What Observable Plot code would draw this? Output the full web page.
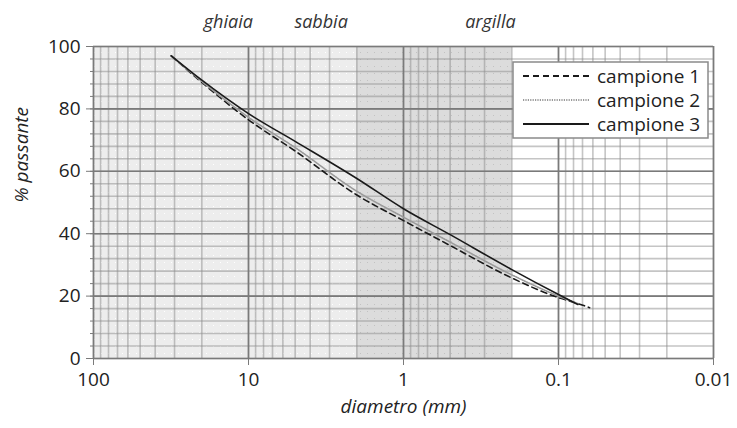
<!DOCTYPE html>
<html><head><meta charset="utf-8">
<script src="https://cdn.jsdelivr.net/npm/d3@7"></script>
<script src="https://cdn.jsdelivr.net/npm/@observablehq/plot@0.6"></script>
<style>
body{margin:0;background:#fff}
#chart{position:relative;width:737px;height:428px}
</style>
</head><body><div id="chart"></div>
<script>
// ---- data ----
const sizes = [31.5, 20, 10, 5, 2, 1, 0.5, 0.2, 0.1, 0.075, 0.063]; // diametro (mm)
const campione1 = [97, 88.5, 76.5, 66.5, 52.4, 44.2, 36.2, 25.8, 19.5, 17.6, 16.3];
const campione2 = [97, 88.8, 77.3, 67.6, 53.6, 45.3, 37.3, 26.8, 20.0, 17.6];
const campione3 = [97, 89.2, 78.5, 69.6, 57.7, 48.0, 39.7, 28.5, 20.5, 17.3];
const seriesNames = ["campione 1", "campione 2", "campione 3"];
const xTicks = [100, 10, 1, 0.1, 0.01];
const yTicks = [0, 20, 40, 60, 80, 100];
const zoneFrom = [100, 2];
const zoneTo = [2, 0.2];
const zoneLabels = ["ghiaia", "sabbia", "argilla"];
const zoneLabelX = [13.5, 3.4, 0.275];

// ---- tables ----
const allValues = [campione1, campione2, campione3];
const rows = [];
allValues.forEach((vals, s) => vals.forEach((v, i) => rows.push({name: seriesNames[s], d: sizes[i], p: v})));
const zones = zoneFrom.map((f, i) => ({from: f, to: zoneTo[i], k: i}));
const labels = zoneLabels.map((t, i) => ({t, x: zoneLabelX[i]}));
const minorX = d3.scaleLog().domain([0.01, 100]).ticks();
const minorY = d3.range(0, 101, 4);

const styles = {
  "campione 1": {stroke: "#1a1a1a", dash: "6,4", width: 1.6},
  "campione 2": {stroke: "#9a9a9a", dash: "1.2,1.2", width: 1.6},
  "campione 3": {stroke: "#1a1a1a", dash: null, width: 1.6}
};
const zoneFill = ["#ededed", "#dcdcdc"];
const zoneDot = ["#ffffff", "#c2c2c2"];
const FONT = "'Open Sans', sans-serif";

const plot = Plot.plot({
  width: 737, height: 428,
  marginLeft: 93, marginRight: 24, marginTop: 46, marginBottom: 70,
  style: {fontFamily: FONT, fontSize: "19px", color: "#222", background: "#fff", overflow: "visible"},
  x: {type: "log", domain: [100, 0.01]},
  y: {domain: [0, 100]},
  marks: [
    Plot.rect(zones, {x1: "from", x2: "to", y1: 0, y2: 100, fill: d => zoneFill[d.k], className: "zone"}),
    Plot.ruleX(minorX, {y1: 0, y2: 100, stroke: "#8c8c8c", strokeOpacity: 0.5, strokeWidth: 1.6}),
    Plot.ruleY(minorY, {x1: 100, x2: 0.01, stroke: "#8c8c8c", strokeOpacity: 0.5, strokeWidth: 1.6}),
    Plot.ruleX(xTicks, {y1: 0, y2: 100, stroke: "#7a7a7a", strokeWidth: 1.6}),
    Plot.ruleY(yTicks, {x1: 100, x2: 0.01, stroke: "#7a7a7a", strokeWidth: 1.6}),
    Plot.axisX(xTicks, {tickSize: 7, tickPadding: 7, stroke: "#7a7a7a", tickFormat: d => String(d), label: null, fontSize: 19}),
    Plot.axisY(yTicks, {tickSize: 7, tickPadding: 6, stroke: "#7a7a7a", label: null, fontSize: 19}),
    Plot.axisY(minorY, {tickSize: 3, stroke: "#7a7a7a", tickFormat: () => "", label: null}),
    ...seriesNames.map(n => Plot.line(rows.filter(r => r.name === n), {
      x: "d", y: "p", stroke: styles[n].stroke, strokeWidth: styles[n].width,
      strokeDasharray: styles[n].dash || undefined, curve: "monotone-x"
    })),
    Plot.text(labels, {x: "x", y: 100, text: "t", dy: -24, fontStyle: "italic", fontSize: 18, fill: "#333"}),
    Plot.text(["diametro (mm)"], {frameAnchor: "bottom", dy: 54, fontStyle: "italic", fontSize: 19, fill: "#222"}),
    Plot.text(["% passante"], {frameAnchor: "left", dx: -72, rotate: -90, fontStyle: "italic", fontSize: 19, fill: "#222"})
  ]
});

const svg = d3.select(plot);
// dotted texture for the zones
const defs = svg.append("defs");
zoneFill.forEach((c, i) => {
  const p = defs.append("pattern").attr("id", "zp" + i).attr("patternUnits", "userSpaceOnUse")
    .attr("width", 7).attr("height", 7);
  p.append("rect").attr("width", 7).attr("height", 7).attr("fill", c);
  p.append("rect").attr("x", 3).attr("y", 3).attr("width", 1).attr("height", 1).attr("fill", zoneDot[i]);
});
svg.selectAll(".zone rect").each(function(_, i) { d3.select(this).attr("fill", `url(#zp${i})`); });

// legend inside plot area
const lg = svg.append("g").attr("transform", "translate(513,62)");
lg.append("rect").attr("width", 195).attr("height", 76).attr("fill", "#fff").attr("stroke", "#8a8a8a").attr("stroke-width", 1.5);
seriesNames.forEach((n, i) => {
  const yy = 14 + i * 24;
  const l = lg.append("line").attr("x1", 10).attr("x2", 76).attr("y1", yy).attr("y2", yy)
    .attr("stroke", styles[n].stroke).attr("stroke-width", 1.8);
  if (styles[n].dash) l.attr("stroke-dasharray", styles[n].dash);
  lg.append("text").attr("x", 84).attr("y", yy).attr("dy", "0.35em").attr("text-anchor", "start")
    .attr("font-family", FONT).attr("font-size", 19).attr("fill", "#222").text(n);
});

document.getElementById("chart").appendChild(plot);
</script>
</body></html>
